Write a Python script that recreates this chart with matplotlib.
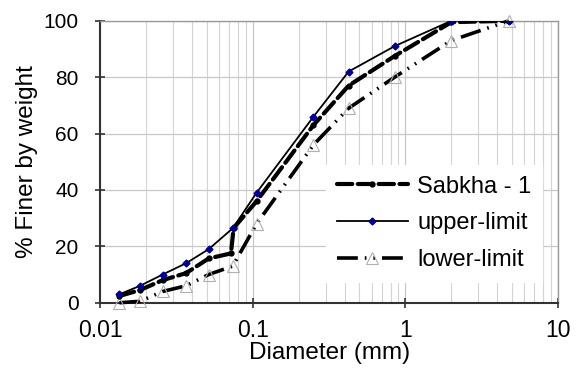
import matplotlib
matplotlib.use("Agg")
import matplotlib.pyplot as plt
from matplotlib.ticker import LogLocator, NullFormatter

plt.rcParams['font.family'] = ['Liberation Sans', 'DejaVu Sans']
plt.rcParams['lines.scale_dashes'] = False

# sample curve (hydrometer + sieve)
sabkha_d = [0.0134, 0.0183, 0.0257, 0.0366, 0.0515, 0.072, 0.075, 0.106, 0.25, 0.425, 0.85, 2.0, 4.75]
sabkha_p = [2.4, 4.5, 8, 10.5, 15.7, 17.5, 26.5, 36, 63, 77, 87.5, 99.5, 100]

# envelope limits
limit_d = [0.0134, 0.0183, 0.0257, 0.0366, 0.0515, 0.074, 0.106, 0.25, 0.425, 0.85, 2.0, 4.75]
upper_p = [3, 6, 10, 14, 19, 26.4, 39, 66, 82, 91, 100, 100]
lower_p = [0, 0.5, 4, 6, 10, 13, 28, 56, 69, 80, 93, 100]

fig = plt.figure(figsize=(5.76, 3.71), dpi=100)
ax = fig.add_axes([0.1736, 0.184, 0.7954, 0.76])

ax.plot(sabkha_d, sabkha_p, color='black', lw=3.0, dashes=(11, 4),
        dash_capstyle='round', marker='o', ms=3.5, mfc='black', mec='black',
        label='Sabkha - 1', zorder=4)
ax.plot(limit_d, upper_p, color='black', lw=1.3, marker='D', ms=3.5,
        mfc='#00008b', mec='#00008b', label='upper-limit', zorder=5)
ax.plot(limit_d, lower_p, color='black', lw=2.6, dashes=(15, 5, 1.2, 5, 1.2, 5),
        marker='^', ms=8, mfc='none', mec='#b0b0b0', mew=0.8,
        label='lower-limit', zorder=3, clip_on=False)

ax.set_xscale('log')
ax.set_xlim(0.01, 10)
ax.set_ylim(0, 100)
ax.set_xticks([0.01, 0.1, 1, 10])
ax.set_xticklabels(['0.01', '0.1', '1', '10'])
ax.xaxis.set_minor_locator(LogLocator(base=10, subs=range(2, 10)))
ax.xaxis.set_minor_formatter(NullFormatter())
ax.set_yticks([0, 20, 40, 60, 80, 100])

ax.grid(True, which='major', color='#c8c8c8', lw=0.9)
ax.grid(True, which='minor', axis='x', color='#d4d4d4', lw=0.8)
ax.set_axisbelow(True)

ax.tick_params(which='major', direction='inout', length=7, width=1.2,
               color='#333333')
ax.tick_params(axis='x', which='major', pad=8, labelsize=16.5)
ax.tick_params(axis='y', which='major', pad=12, labelsize=15)
ax.tick_params(which='minor', length=0)

for side in ['left', 'bottom']:
    ax.spines[side].set_color('#333333')
    ax.spines[side].set_linewidth(1.5)
for side in ['top', 'right']:
    ax.spines[side].set_color('#999999')
    ax.spines[side].set_linewidth(1.0)

ax.set_xlabel('Diameter (mm)', fontsize=17.5, labelpad=0)
ax.set_ylabel('% Finer by weight', fontsize=17.5, labelpad=4)

leg = ax.legend(loc='lower right', bbox_to_anchor=(0.965, 0.075), fontsize=17,
                handlelength=3.0, labelspacing=0.62, borderpad=0.45,
                handletextpad=0.4, borderaxespad=0.0, frameon=True, fancybox=False)
leg.get_frame().set_facecolor('white')
leg.get_frame().set_edgecolor('white')
leg.get_frame().set_alpha(1)

fig.savefig('out.png', dpi=100)
